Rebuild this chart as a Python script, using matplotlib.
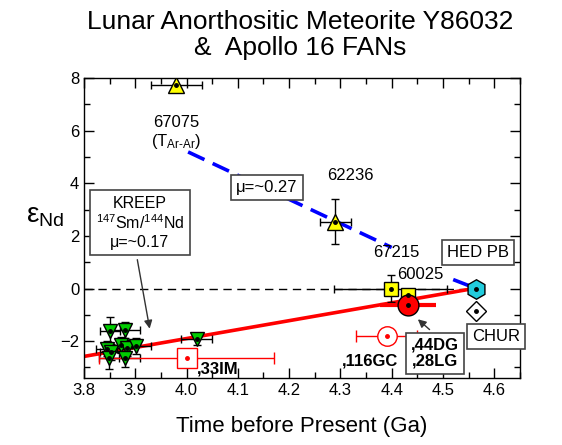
import numpy as np
import matplotlib.pyplot as plt
from matplotlib.ticker import MultipleLocator

plt.rcParams['font.family'] = ['Liberation Sans', 'DejaVu Sans']
plt.rcParams['mathtext.fontset'] = 'custom'
plt.rcParams['mathtext.rm'] = 'Liberation Sans'
plt.rcParams['mathtext.it'] = 'Liberation Sans:italic'
plt.rcParams['mathtext.bf'] = 'Liberation Sans:bold'

# Y86032 mineral fractions (green inverted triangles)
y86_age = [3.851, 3.879, 3.844, 3.852, 3.873, 3.884, 3.901, 3.849, 3.879, 4.02]
y86_eps = [-1.62, -1.58, -2.28, -2.42, -2.16, -2.27, -2.19, -2.65, -2.65, -1.93]
y86_age_err = [0.02, 0.03, 0.02, 0.02, 0.02, 0.02, 0.03, 0.02, 0.03, 0.03]
y86_eps_err = [0.55, 0.3, 0.3, 0.3, 0.3, 0.3, 0.3, 0.42, 0.35, 0.2]

# Apollo 16 FANs (yellow)
fan_tri_age = [3.98, 4.29]
fan_tri_eps = [7.75, 2.54]
fan_tri_age_err = [0.05, 0.03]
fan_tri_eps_err = [0.0, 0.85]
fan_sq_age = [4.398, 4.432]
fan_sq_eps = [0.0, -0.23]
fan_sq_age_err = [0.11, 0.0]
fan_sq_eps_err = [0.5, 0.0]

# Y86032 clasts (red)
clast_44_age, clast_44_eps, clast_44_age_err = 4.432, -0.64, 0.055
clast_116_age, clast_116_eps, clast_116_age_err = 4.39, -1.82, 0.06
clast_33_age, clast_33_eps, clast_33_age_err = 4.0, -2.65, 0.17

# reference reservoirs
hed_age, hed_eps = 4.565, 0.0
chur_age, chur_eps = 4.565, -0.85

# evolution lines
kreep_line_age = [3.8, 4.56]
kreep_line_eps = [-2.58, 0.0]
fan_line1_age = [4.003, 4.40]
fan_line1_eps = [5.19, 1.56]
fan_line2_age = [4.52, 4.565]
fan_line2_eps = [0.34, 0.0]

fig = plt.figure(figsize=(5.62, 4.45), dpi=100)
ax = fig.add_axes([0.1495, 0.1506, 0.7755, 0.6741])

ax.axhline(0, xmin=0, xmax=(4.57 - 3.8) / 0.85, color='black', lw=1, ls=(0, (6, 4)), zorder=1)
ax.plot(kreep_line_age, kreep_line_eps, color='red', lw=2.6, zorder=2)
ax.plot(fan_line1_age, fan_line1_eps, color='blue', lw=2.6, ls=(0, (5, 2.5)), zorder=2)
ax.plot(fan_line2_age, fan_line2_eps, color='blue', lw=2.6, ls=(0, (5, 2.5)), zorder=2)

eb = dict(fmt='none', ecolor='black', elinewidth=1, capsize=3, zorder=3)
ax.errorbar(y86_age, y86_eps, xerr=y86_age_err, yerr=y86_eps_err, **eb)
ax.errorbar(fan_tri_age, fan_tri_eps, xerr=fan_tri_age_err, yerr=fan_tri_eps_err, **eb)
ax.errorbar(fan_sq_age[:1], fan_sq_eps[:1], xerr=fan_sq_age_err[:1], yerr=fan_sq_eps_err[:1], **eb)

reb = dict(fmt='none', ecolor='red', elinewidth=1, capsize=4, zorder=3)
ax.errorbar(clast_33_age, clast_33_eps, xerr=clast_33_age_err, **reb)
ax.errorbar(clast_116_age, clast_116_eps, xerr=clast_116_age_err, **reb)
ax.errorbar(clast_44_age, clast_44_eps, xerr=clast_44_age_err, fmt='none', ecolor='red', elinewidth=3, capsize=0, zorder=3)

ax.plot(y86_age, y86_eps, 'v', ms=10, mfc='#00cc00', mec='black', mew=1, zorder=4)
ax.plot(fan_tri_age, fan_tri_eps, '^', ms=11, mfc='yellow', mec='black', mew=1, zorder=4)
ax.plot(fan_sq_age, fan_sq_eps, 's', ms=10, mfc='yellow', mec='black', mew=1, zorder=4)
ax.plot(clast_44_age, clast_44_eps, 'o', ms=15, mfc='red', mec='black', mew=1, zorder=5)
ax.plot(clast_116_age, clast_116_eps, 'o', ms=14, mfc='white', mec='red', mew=1, zorder=4)
ax.plot(clast_33_age, clast_33_eps, 's', ms=14, mfc='white', mec='red', mew=1, zorder=4)
ax.plot(hed_age, hed_eps, 'h', ms=14, mfc='#22ccdd', mec='black', mew=1, zorder=4)
ax.plot(chur_age, chur_eps, 'D', ms=10, mfc='white', mec='black', mew=1, zorder=4)

# centre dots
dot_age = y86_age + fan_tri_age + fan_sq_age + [clast_44_age, hed_age, chur_age]
dot_eps = y86_eps + fan_tri_eps + fan_sq_eps + [clast_44_eps, hed_eps, chur_eps]
ax.plot(dot_age, dot_eps, 'o', ms=2.5, color='black', zorder=6)
ax.plot([clast_116_age, clast_33_age], [clast_116_eps, clast_33_eps], 'o', ms=2.5, color='red', zorder=6)

box = dict(boxstyle='square,pad=0.3', fc='white', ec='#444444', lw=1.2)
ax.text(3.98, 6.3, '67075', ha='center', va='center', fontsize=12)
ax.text(3.98, 5.6, r'(T$_{\mathrm{Ar}\text{-}\mathrm{Ar}}$)', ha='center', va='center', fontsize=12)
ax.text(4.32, 4.3, '62236', ha='center', va='center', fontsize=12)
ax.text(4.41, 1.35, '67215', ha='center', va='center', fontsize=12)
ax.text(4.455, 0.55, '60025', ha='center', va='center', fontsize=12)
ax.text(4.157, 3.83, '\u03bc=~0.27', ha='center', va='center', fontsize=12, bbox=box)
ax.text(3.909, 2.5, 'KREEP\n$^{147}$Sm/$^{144}$Nd\n\u03bc=~0.17', ha='center', va='center',
        fontsize=11.5, linespacing=1.2, bbox=dict(boxstyle='square,pad=0.35', fc='white', ec='#444444', lw=1.2))
ax.text(4.568, 1.36, 'HED PB', ha='center', va='center', fontsize=12, bbox=box)
ax.text(4.603, -1.82, 'CHUR', ha='center', va='center', fontsize=12, bbox=box, clip_on=False)
ax.text(4.484, -2.46, ',44DG\n,28LG', ha='center', va='center', fontsize=12, fontweight='bold',
        linespacing=1.1, bbox=box)
ax.text(4.358, -2.77, ',116GC', ha='center', va='center', fontsize=12, fontweight='bold')
ax.text(4.02, -3.07, ',33IM', ha='left', va='center', fontsize=12, fontweight='bold')

arrow = dict(arrowstyle='-|>', color='#333333', lw=1, mutation_scale=12)
ax.annotate('', xy=(3.929, -1.63), xytext=(3.903, 1.2), arrowprops=arrow, zorder=7)
ax.annotate('', xy=(4.447, -1.1), xytext=(4.478, -1.63), arrowprops=arrow, zorder=7)

ax.set_xlim(3.8, 4.65)
ax.set_ylim(-3.4, 8)
ax.xaxis.set_minor_locator(MultipleLocator(0.05))
ax.yaxis.set_major_locator(MultipleLocator(2))
ax.yaxis.set_minor_locator(MultipleLocator(1))
ax.set_xticks(np.arange(3.8, 4.61, 0.1))
ax.tick_params(which='both', direction='in', top=True, right=True, labelsize=12, width=1)
ax.tick_params(which='major', length=7)
ax.tick_params(which='minor', length=4)
for s in ax.spines.values():
    s.set_linewidth(1)

ax.set_xlabel('Time before Present (Ga)', fontsize=16, labelpad=13)
fig.text(0.08, 0.515, '\u03b5$_{\\rm Nd}$', fontsize=20, ha='center', va='center')
fig.text(0.535, 0.95, 'Lunar Anorthositic Meteorite Y86032', fontsize=19, ha='center', va='center')
fig.text(0.535, 0.893, '&  Apollo 16 FANs', fontsize=19, ha='center', va='center')

fig.savefig('out.png', dpi=100)
